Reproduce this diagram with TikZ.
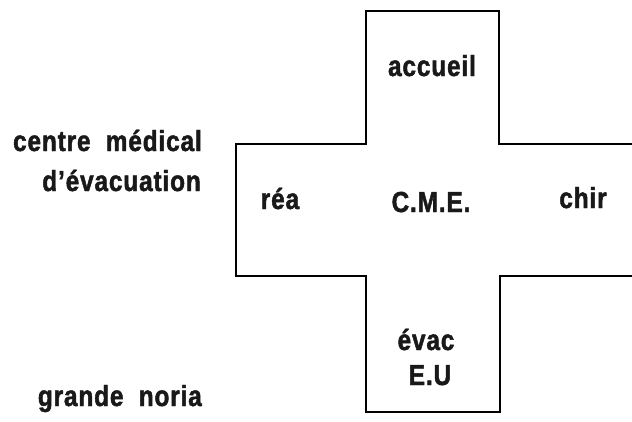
\documentclass[tikz,border=0pt]{standalone}
\usepackage{fontspec}
\newfontfamily\cndfont{Liberation Sans Bold}[FakeStretch=0.84,FakeBold=1.6,LetterSpace=3]

\begin{document}
\begin{tikzpicture}[x=1pt,y=-1pt]
	\tikzset{
		lbl/.style={inner sep=0pt, anchor=base, text=black!90, font=\cndfont\fontsize{29}{34}\selectfont},
		side/.style={lbl, anchor=base east}
	}
	\useasboundingbox (0,0) rectangle (632,421);

	\node at (202,151) [side] (cme1) {centre~~médical};
	\node at (201,191) [side] (cme2) {d’évacuation};
	\node at (202,406) [side] (noria) {grande~~noria};

	\node at (432,76) [lbl] (acc) {accueil};
	\node at (280,209) [lbl] (rea) {réa};
	\node at (431,212) [lbl] (cme) {C.M.E.};
	\node at (583,208) [lbl] (chir) {chir};
	\node at (426,350) [lbl] (evac) {évac};
	\node at (430,385) [lbl] (eu) {E.U};

	\draw [line width=1.3pt, line join=miter]
	  (632,144) -- (499,144) -- (499,11) -- (366,11) -- (366,144)
	  -- (236,144) -- (236,276) -- (366,276) -- (366,412)
	  -- (500,412) -- (500,276) -- (632,276);

\end{tikzpicture}
\end{document}
